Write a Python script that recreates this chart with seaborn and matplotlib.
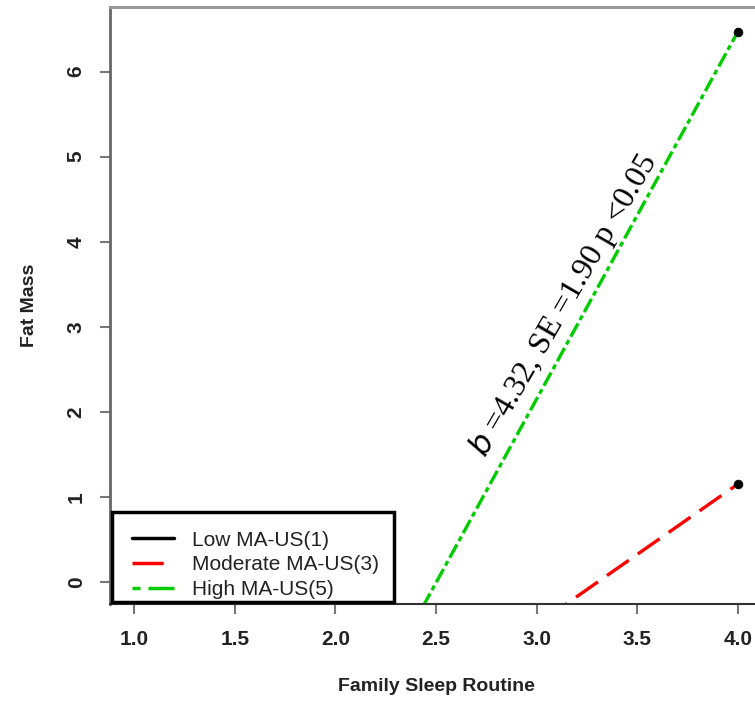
import matplotlib
matplotlib.use("Agg")
import matplotlib.pyplot as plt
import seaborn as sns
import pandas as pd
from matplotlib.lines import Line2D
from matplotlib.patches import Rectangle

# ---- data ----
sleep_routine = [1.0, 4.0]
low_ma = [-3.0, -1.2]
moderate_ma = [-3.81, 1.15]
high_ma = [-6.49, 6.47]
group_labels = ["Low MA-US(1)", "Moderate MA-US(3)", "High MA-US(5)"]
x_ticks = [1.0, 1.5, 2.0, 2.5, 3.0, 3.5, 4.0]
y_ticks = [0, 1, 2, 3, 4, 5, 6]
annotation = "$b$ =4.32, SE =1.90 p <0.05"

df = pd.DataFrame({
    "x": sleep_routine * 3,
    "y": low_ma + moderate_ma + high_ma,
    "group": [group_labels[0]] * 2 + [group_labels[1]] * 2 + [group_labels[2]] * 2,
})

sns.set_style("ticks")
plt.rcParams["font.family"] = ["Liberation Sans", "DejaVu Sans"]

fig = plt.figure(figsize=(7.55, 7.04), dpi=100)
ax = fig.add_axes([110 / 755, 1 - 604 / 704, 652 / 755, 597 / 704])

palette = {group_labels[0]: "black", group_labels[1]: "#ff0000", group_labels[2]: "#00cc00"}
dashes = {group_labels[0]: "", group_labels[1]: (8, 3.3), group_labels[2]: (4.5, 1.2, 1.5, 1.2)}
sns.lineplot(data=df, x="x", y="y", hue="group", style="group", palette=palette,
             dashes=dashes, linewidth=2.4, ax=ax, legend=False)
sns.scatterplot(data=df, x="x", y="y", color="black", s=40, ax=ax, legend=False,
                edgecolor="black", zorder=5)

ax.set_xlim(0.88, 4.12)
ax.set_ylim(-0.26, 6.76)
ax.set_xticks(x_ticks)
ax.set_xticklabels([f"{v:.1f}" for v in x_ticks], fontsize=15, fontweight="bold", color="#222222")
ax.set_yticks(y_ticks)
ax.set_yticklabels([str(v) for v in y_ticks], fontsize=15, fontweight="bold", color="#222222",
                   rotation=90, va="center")
ax.tick_params(axis="both", length=7.5, width=1.5, color="#777777", pad=10)
ax.tick_params(axis="x", pad=11)

ax.set_xlabel("Family Sleep Routine", fontsize=14, fontweight="bold", color="#222222", labelpad=21)
ax.set_ylabel("Fat Mass", fontsize=14, fontweight="bold", color="#222222", labelpad=21)

ax.spines["right"].set_visible(False)
ax.spines["top"].set_color("#999999")
ax.spines["top"].set_linewidth(2.2)
ax.spines["left"].set_color("#666666")
ax.spines["left"].set_linewidth(2.0)
ax.spines["bottom"].set_color("#333333")
ax.spines["bottom"].set_linewidth(1.5)

ax.text(3.134, 3.25, annotation, rotation=60, rotation_mode="anchor", ha="center", va="center",
        fontsize=23, family=["Liberation Serif", "DejaVu Serif"], color="black")

# legend box (R-style square frame)
box = Rectangle((0.003, 0.0034), 0.4326, 0.1507, transform=ax.transAxes, facecolor="white",
                edgecolor="black", linewidth=2.5, zorder=6, clip_on=False)
ax.add_patch(box)
handles = [
    Line2D([0], [0], color="black", lw=2.5),
    Line2D([0], [0], color="#ff0000", lw=2.5, dashes=(9, 20)),
    Line2D([0], [0], color="#00cc00", lw=2.5, dashes=(2.3, 2.3, 8, 2)),
]
leg = ax.legend(handles, group_labels, loc="upper left", bbox_to_anchor=(0.0337, 0.1231),
                borderaxespad=0, frameon=False, fontsize=15,
                handlelength=2.0, handletextpad=0.9, labelspacing=0.28, borderpad=0)
leg.set_zorder(7)
for t in leg.get_texts():
    t.set_color("#222222")

fig.savefig("out.png", dpi=100)
